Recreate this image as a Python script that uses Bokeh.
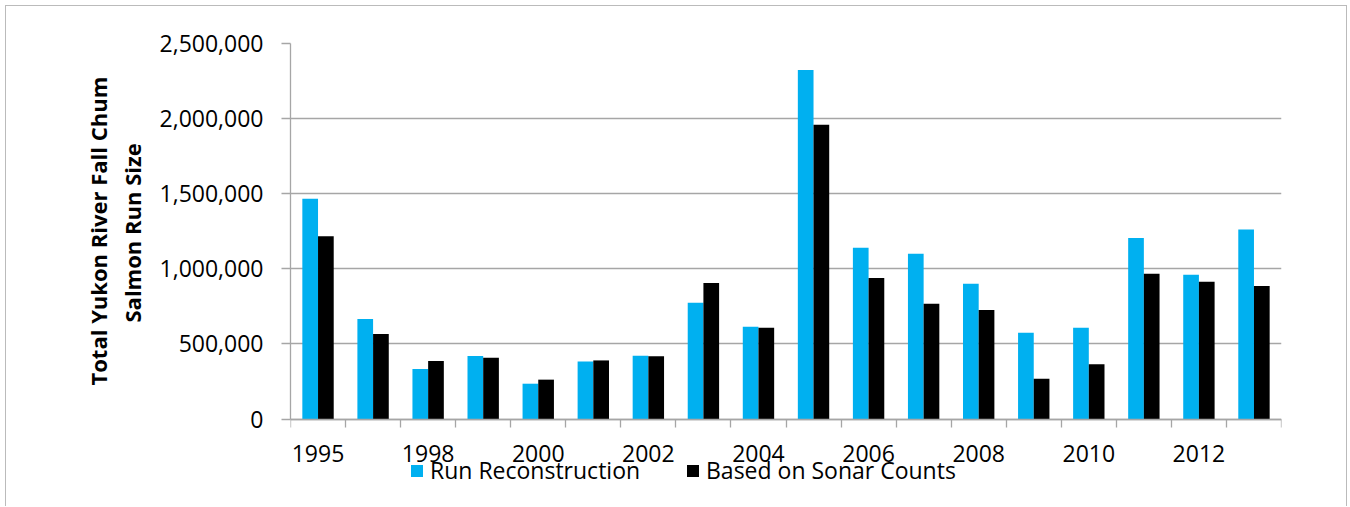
from bokeh.plotting import figure
from bokeh.models import (Range1d, FixedTicker, NumeralTickFormatter, Legend, LegendItem,
                          ColumnDataSource, Title)
from bokeh.transform import dodge
from bokeh.embed import file_html
from bokeh.resources import INLINE

# ---- data ----
years = ["1995", "1997", "1998", "1999", "2000", "2001", "2002", "2003", "2004",
         "2005", "2006", "2007", "2008", "2009", "2010", "2011", "2012", "2013"]
run_reconstruction = [1466000, 665000, 333000, 419000, 235000, 382000, 421000, 774000, 614000,
                      2323000, 1140000, 1100000, 901000, 575000, 608000, 1205000, 960000, 1262000]
sonar_counts = [1216000, 566000, 386000, 408000, 262000, 390000, 417000, 905000, 608000,
                1959000, 938000, 768000, 725000, 268000, 364000, 967000, 914000, 885000]
y_ticks = [0, 500000, 1000000, 1500000, 2000000, 2500000]
series_names = ["Run Reconstruction", "Based on Sonar Counts"]
y_title_lines = ["Total Yukon River Fall Chum", "Salmon Run Size"]

BLUE = "#00B0F0"
BLACK = "#000000"
GRID = "#A6A6A6"
FONT = "Open Sans"

# ---- layout (pixels, canvas starts at page (6, 6) because of margin + border) ----
W, H = 1342, 501
LEFT, RIGHT, TOP = 284, 67, 37
ZERO_PX = 412.5           # canvas y of value 0
ymax = y_ticks[-1]
per_px = ymax / (ZERO_PX - TOP)
ymin = -(H - ZERO_PX) * per_px   # frame reaches canvas bottom so the legend is drawn

n = len(years)
idx = [i + 0.5 for i in range(n)]
src = ColumnDataSource(dict(x=idx, rr=run_reconstruction, sc=sonar_counts, year=years))

p = figure(width=W, height=H, x_range=Range1d(0, n), y_range=Range1d(ymin, ymax),
           output_backend="svg", toolbar_location=None,
           min_border_left=LEFT, min_border_right=RIGHT, min_border_top=TOP, min_border_bottom=0)
p.margin = (5, 0, 0, 5)
p.styles = {"border-left": "1px solid #BBBBBB", "border-top": "1px solid #BBBBBB",
            "border-right": "1px solid #BBBBBB"}
p.outline_line_color = None
p.background_fill_color = "white"
p.border_fill_color = "white"

bw = 0.285
r1 = p.vbar(x=dodge("x", -bw / 2, range=p.x_range), top="rr", bottom=0, width=bw, source=src,
            fill_color=BLUE, line_color=None)
r2 = p.vbar(x=dodge("x", bw / 2, range=p.x_range), top="sc", bottom=0, width=bw, source=src,
            fill_color=BLACK, line_color=None)

# x axis at value 0: labels every other category, tick marks at category boundaries
overrides = {}
for i, (pos, yr) in enumerate(zip(idx, years)):
    overrides[pos] = yr if i % 2 == 0 else ""
p.xaxis.fixed_location = 0
p.xaxis.ticker = FixedTicker(ticks=idx, minor_ticks=list(range(n + 1)))
p.xaxis.major_label_overrides = overrides
p.xaxis.major_tick_out = 0
p.xaxis.major_tick_in = 0
p.xaxis.minor_tick_out = 8
p.xaxis.minor_tick_in = 0
p.xaxis.minor_tick_line_color = GRID
p.xaxis.minor_tick_line_width = 1.3
p.xaxis.axis_line_color = GRID
p.xaxis.axis_line_width = 1.3
p.xaxis.major_label_text_font = FONT
p.xaxis.major_label_text_font_size = "23px"
p.xaxis.major_label_text_color = "#000000"
p.xaxis.major_label_standoff = 18
p.xgrid.visible = False

# y axis
p.yaxis.ticker = FixedTicker(ticks=y_ticks)
p.yaxis.bounds = (0, ymax)
p.yaxis.formatter = NumeralTickFormatter(format="0,0")
p.yaxis.major_tick_out = 9
p.yaxis.major_tick_in = 0
p.yaxis.minor_tick_line_color = None
p.yaxis.major_tick_line_color = GRID
p.yaxis.major_tick_line_width = 1.3
p.yaxis.axis_line_color = GRID
p.yaxis.axis_line_width = 1.3
p.yaxis.major_label_text_font = FONT
p.yaxis.major_label_text_font_size = "23px"
p.yaxis.major_label_text_color = "#000000"
p.yaxis.major_label_standoff = 18
p.ygrid.ticker = FixedTicker(ticks=y_ticks)
p.ygrid.grid_line_color = GRID
p.ygrid.grid_line_width = 1.3

# y axis title: two centred lines (offsets measured from the frame bottom)
def title_line(text, offset, valign, standoff):
    p.add_layout(Title(text=text, align="left", vertical_align=valign, offset=offset,
                       standoff=standoff, text_font=FONT, text_font_style="bold",
                       text_font_size="22px", text_color="#000000"), "left")

title_line(y_title_lines[1], 185, "top", 15)     # inner line
title_line(y_title_lines[0], 122, "bottom", -6)  # outer line

# legends
def make_legend(name, renderer, loc):
    lg = Legend(items=[LegendItem(label=name, renderers=[renderer])], location=loc,
                orientation="horizontal", padding=0, margin=0, border_line_color=None,
                background_fill_alpha=0, glyph_width=15, glyph_height=15, label_standoff=6,
                label_text_font=FONT, label_text_font_size="23px", label_text_color="#000000",
                label_height=15, spacing=0)
    p.add_layout(lg, "center")
    return lg

make_legend(series_names[0], r1, (119, 21))
make_legend(series_names[1], r2, (395, 21))

open("out.html", "w").write(file_html(p, INLINE))
